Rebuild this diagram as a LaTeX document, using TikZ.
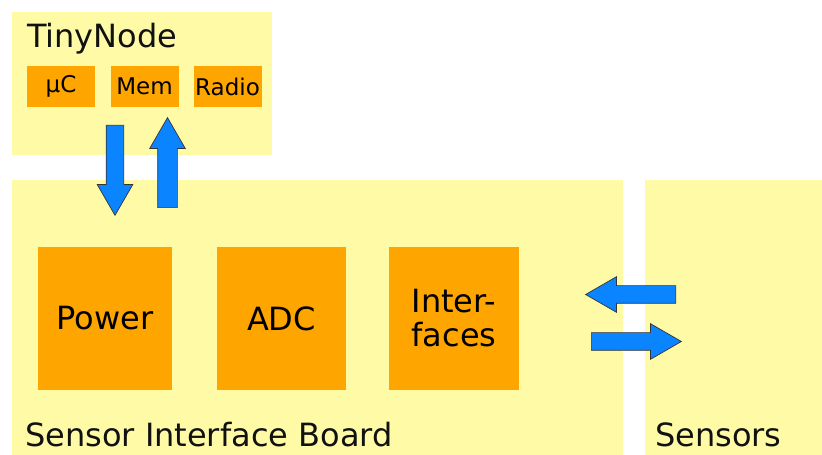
\documentclass[tikz,border=0pt]{standalone}
\usepackage{fontspec}
\setmainfont{DejaVu Sans}
\usetikzlibrary{shapes.arrows}
\definecolor{Pale}{HTML}{FFFAA6}
\definecolor{Chip}{HTML}{FFA500}
\definecolor{Flow}{HTML}{0A84FF}
\definecolor{Ink}{HTML}{111111}

\begin{document}
\begin{tikzpicture}[x=1pt,y=1pt,
  board/.style={fill=Pale,draw=none,inner sep=0pt},
  chip/.style={fill=Chip,draw=none,align=center,inner sep=0pt,
   font=\fontsize{32}{34}\selectfont},
  smallchip/.style={chip,minimum width=68,minimum height=41,
   font=\fontsize{23}{25}\selectfont},
  label/.style={anchor=base west,inner sep=0pt,text=Ink,
   font=\fontsize{32}{34}\selectfont},
  flow/.style={single arrow,single arrow head extend=9pt,
   single arrow tip angle=60,minimum height=90,inner xsep=0pt,
   inner ysep=8.5pt,fill=Flow,draw=Ink!85,line width=.7pt,anchor=tail}]
  \useasboundingbox (0,0) rectangle (822,455);
  % boards
  \node[board,minimum width=260,minimum height=143] (tiny) at (142,371.5) {};
  \node[board,minimum width=611,minimum height=275] (sib) at (317.5,137.5) {};
  \node[board,minimum width=177,minimum height=275] (sens) at (733.5,137.5) {};
  \node[label] (tinytxt) at (27,407) {TinyNode};
  \node[label] (sibtxt) at (25,8) {Sensor Interface Board};
  \node[label] (senstxt) at (655,8) {Sensors};
  % parts of the node
  \node[smallchip] (uc) at (61,368.5) {µC};
  \node[smallchip] (mem) at (144.5,368.5) {Mem};
  \node[smallchip] (radio) at (227.5,368.5) {Radio};
  % parts of the board
  \node[chip,minimum width=134,minimum height=143] (power) at (105,136.5) {Power};
  \node[chip,minimum width=129,minimum height=143] (adc) at (281.5,136.5) {ADC};
  \node[chip,minimum width=130,minimum height=143] (iface) at (454,136.5) {Inter-\\faces};
  % data flow
  \node[flow,rotate=-90] (down) at (115,330) {};
  \node[flow,rotate=90,inner ysep=9.5pt,single arrow head extend=8pt] (up) at (167.5,247) {};
  \node[flow,rotate=180] (in) at (676,160.5) {};
  \node[flow] (out) at (591,113.5) {};
\end{tikzpicture}
\end{document}
